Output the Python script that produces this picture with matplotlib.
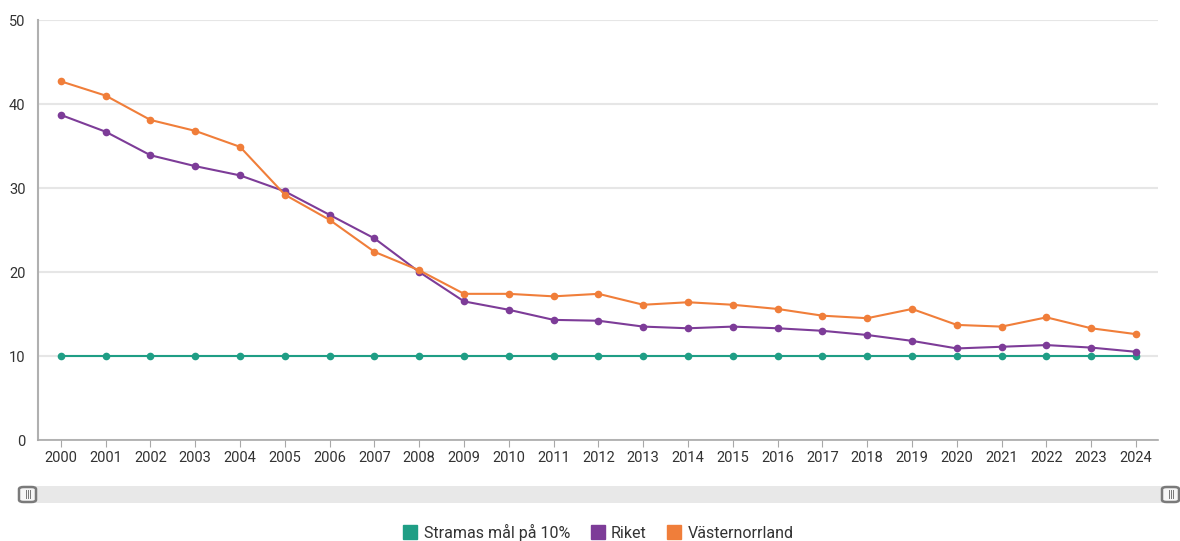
import matplotlib.pyplot as plt
from matplotlib.patches import Rectangle, FancyBboxPatch
from matplotlib.lines import Line2D

plt.rcParams['font.family'] = ['Roboto', 'DejaVu Sans']

years = list(range(2000, 2025))
strama = [10] * 25
riket = [38.7, 36.7, 33.9, 32.6, 31.5, 29.6, 26.8, 24.0, 20.0, 16.5,
         15.5, 14.3, 14.2, 13.5, 13.3, 13.5, 13.3, 13.0, 12.5, 11.8,
         10.9, 11.1, 11.3, 11.0, 10.5]
vasternorrland = [42.7, 41.0, 38.1, 36.8, 34.9, 29.2, 26.2, 22.4, 20.2, 17.4,
                  17.4, 17.1, 17.4, 16.1, 16.4, 16.1, 15.6, 14.8, 14.5, 15.6,
                  13.7, 13.5, 14.6, 13.3, 12.6]
series_names = ['Stramas mål på 10%', 'Riket', 'Västernorrland']
colors = ['#1f9e85', '#7d3c98', '#f07e3a']

W, H = 1180, 541
fig = plt.figure(figsize=(W / 100, H / 100), dpi=100)
ax = fig.add_axes([38 / W, 1 - 440 / H, 1120 / W, 420 / H])

for vals, c in zip([strama, riket, vasternorrland], colors):
    ax.plot(years, vals, color=c, lw=1.5, marker='o', markersize=5.5,
            markeredgewidth=0, clip_on=False, zorder=3)

ax.set_xlim(1999.49, 2024.49)
ax.set_ylim(0, 50)
ax.set_xticks(years)
ax.set_xticklabels([str(y) for y in years])
ax.set_yticks([0, 10, 20, 30, 40, 50])
ax.grid(axis='y', color='#e6e6e6', lw=1.5)
ax.set_axisbelow(True)
for s in ['top', 'right']:
    ax.spines[s].set_visible(False)
ax.spines['left'].set_color('#b0b0b0')
ax.spines['left'].set_linewidth(1.5)
ax.spines['bottom'].set_color('#a8a8a8')
ax.spines['bottom'].set_linewidth(1.2)
ax.tick_params(axis='y', length=0, pad=9, labelsize=10.5, labelcolor='#333333')
ax.tick_params(axis='x', length=5, color='#a8a8a8', pad=3, labelsize=10.5,
               labelcolor='#333333')

# scrollbar
fig.patches.append(Rectangle((28 / W, 1 - 503 / H), 1140 / W, 17 / H,
                             transform=fig.transFigure, facecolor='#e8e8e8',
                             edgecolor='none'))
for hx in [19, 1162]:
    fig.patches.append(FancyBboxPatch((hx / W, 1 - 502 / H), 17 / W, 15 / H,
                                      boxstyle='round,pad=0,rounding_size=0.004',
                                      transform=fig.transFigure, facecolor='#f6f6f6',
                                      edgecolor='#7a7a7a', lw=1.8, zorder=3))
    for k in range(3):
        lx = (hx + 6.5 + k * 2) / W
        fig.lines.append(Line2D([lx, lx], [1 - 498 / H, 1 - 490 / H],
                                transform=fig.transFigure, color='#777777', lw=0.7,
                                zorder=4))

handles = [Line2D([], [], ls='none', marker='s', markersize=10, color=c) for c in colors]
fig.legend(handles, series_names, loc='center', bbox_to_anchor=(0.5 + 8 / W, 1 - 532 / H),
           ncol=3, frameon=False, fontsize=11.5, handletextpad=0.35, columnspacing=1.2,
           handlelength=1.0, labelcolor='#333333')

fig.savefig('out.png', dpi=100)
